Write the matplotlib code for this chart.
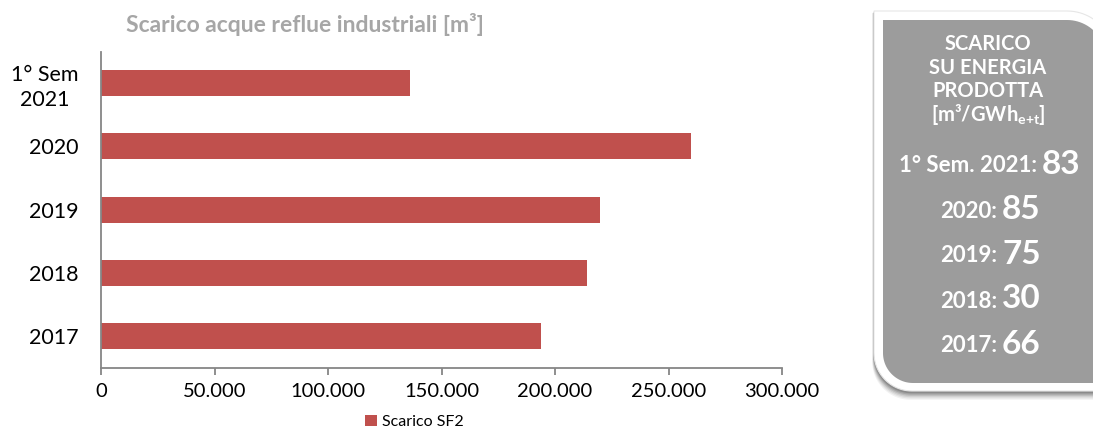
import numpy as np
import matplotlib.pyplot as plt
from matplotlib.path import Path
from matplotlib.patches import PathPatch

plt.rcParams['font.family'] = ['Lato', 'DejaVu Sans']
plt.rcParams['mathtext.fontset'] = 'custom'
plt.rcParams['mathtext.rm'] = 'Lato'
plt.rcParams['mathtext.bf'] = 'Lato:bold'
plt.rcParams['mathtext.it'] = 'Lato:italic'

# ---------------- DATA ----------------
categories = ['1° Sem\n2021', '2020', '2019', '2018', '2017']
scarico = [136000, 260000, 220000, 214000, 194000]
series_name = 'Scarico SF2'
x_ticks = [0, 50000, 100000, 150000, 200000, 250000, 300000]

panel_title = ['SCARICO', 'SU ENERGIA', 'PRODOTTA', r'[m³/GWh$_{\mathbf{e{+}t}}$]']
panel_labels = ['1° Sem. 2021:', '2020:', '2019:', '2018:', '2017:']
panel_values = ['83', '85', '75', '30', '66']

BAR_RED = '#C0504D'
AXIS_GRAY = '#868686'

W, H = 1093, 428
fig = plt.figure(figsize=(W / 100, H / 100), dpi=100)

# ---------------- BAR CHART ----------------
ax = fig.add_axes([101 / W, 1 - 368 / H, 681 / W, 316.5 / H])
ypos = np.arange(len(categories))[::-1]
ax.barh(ypos, scarico, height=0.41, color=BAR_RED, label=series_name)
ax.set_xlim(0, 300000)
ax.set_ylim(-0.5, len(categories) - 0.5)
ax.set_xticks(x_ticks)
ax.set_xticklabels([f'{v:,}'.replace(',', '.') for v in x_ticks])
ax.set_yticks(ypos)
ax.set_yticklabels(categories, multialignment='center', linespacing=1.3)
for s in ['top', 'right']:
    ax.spines[s].set_visible(False)
for s in ['left', 'bottom']:
    ax.spines[s].set_color(AXIS_GRAY)
    ax.spines[s].set_linewidth(1.3)
ax.tick_params(axis='x', length=5, width=1.3, color=AXIS_GRAY, pad=6, labelsize=14.5)
ax.tick_params(axis='y', length=0, pad=16, labelsize=15.5)

fig.text(305 / W, 1 - 24 / H, 'Scarico acque reflue industriali [m³]',
         ha='center', va='center', fontsize=16.5, fontweight='bold', color='#A6A6A6')

ax.legend(loc='center', bbox_to_anchor=(414 / W, 1 - 422 / H), bbox_transform=fig.transFigure,
          frameon=False, handlelength=0.75, handleheight=0.75, handletextpad=0.3,
          fontsize=11.5, borderpad=0)

# ---------------- SIDE PANEL ----------------
ov = fig.add_axes([0, 0, 1, 1], zorder=-1)
ov.set_xlim(0, W)
ov.set_ylim(H, 0)
ov.axis('off')


def diag_round_rect(x0, y0, x1, y1, r_tr, r_bl, n=24):
    pts = [(x0, y0), (x1 - r_tr, y0)]
    t = np.linspace(-np.pi / 2, 0, n)
    pts += list(zip(x1 - r_tr + r_tr * np.cos(t), y0 + r_tr + r_tr * np.sin(t)))
    pts += [(x1, y1), (x0 + r_bl, y1)]
    t = np.linspace(np.pi / 2, np.pi, n)
    pts += list(zip(x0 + r_bl + r_bl * np.cos(t), y1 - r_bl + r_bl * np.sin(t)))
    pts.append((x0, y0))
    return Path(pts, closed=True)


for k, a in zip(range(6, 0, -1), [0.05, 0.06, 0.08, 0.1, 0.12, 0.15]):
    ov.add_patch(PathPatch(diag_round_rect(874 - k * 0.3, 12 + k * 0.2, 1114, 392 + k * 1.3, 47, 38),
                           facecolor='black', alpha=a, edgecolor='none'))
ov.add_patch(PathPatch(diag_round_rect(874, 11, 1114, 391, 47, 38),
                       facecolor='white', edgecolor='#e6e6e6', lw=0.8))
ov.add_patch(PathPatch(diag_round_rect(883, 20, 1106, 383, 39, 30),
                       facecolor='#9C9C9C', edgecolor='none'))

for txt, y in zip(panel_title, [44, 68, 91, 114]):
    ov.text(988, y, txt, ha='center', va='center', color='white', fontsize=14.5, fontweight='bold')

row_y = [164, 209, 254, 299, 344]
split_x = [1037, 997, 997, 997, 997]
for lab, val, y, sx in zip(panel_labels, panel_values, row_y, split_x):
    ov.text(sx, y + 2, lab, ha='right', va='center', color='white', fontsize=16, fontweight='bold')
    ov.text(sx + 5, y, val, ha='left', va='center', color='white', fontsize=24, fontweight='bold')

fig.savefig('out.png', dpi=100)
